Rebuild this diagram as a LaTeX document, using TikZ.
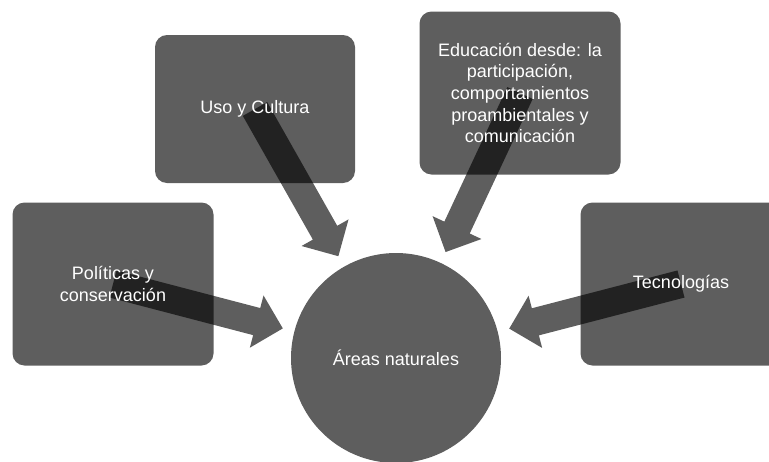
\documentclass[tikz,border=0pt]{standalone}
\usepackage{fontspec}
\setmainfont{Liberation Sans}
\usetikzlibrary{calc}
\definecolor{cajagris}{RGB}{94,94,94}
\tikzstyle{caja}=[rounded corners=12pt,fill=cajagris,minimum width=201pt,minimum height=163pt]
\tikzstyle{etiqueta}=[text=white,align=center,font=\fontsize{18}{21.6}\selectfont]
\tikzstyle{flecha}=[fill=black,fill opacity=0.63]
% block arrow from the centre of box #1 towards circle #2
\newcommand{\bloqueflecha}[2]{
    \coordinate (#1_a) at (#1.center);
    \coordinate (#1_p) at ($(#2.center)!117pt!(#1.center)$);
    \coordinate (#1_h) at ($(#1_p)!27pt!(#1_a)$);
    \fill[flecha] ($(#1_a)!14pt!90:(#1_p)$) -- ($(#1_h)!14pt!-90:(#1_a)$)
        -- ($(#1_h)!27pt!-90:(#1_a)$) -- (#1_p) -- ($(#1_h)!27pt!90:(#1_a)$)
        -- ($(#1_h)!14pt!90:(#1_a)$) -- ($(#1_a)!14pt!-90:(#1_p)$) -- cycle;
}

\begin{document}
\begin{tikzpicture}[x=1pt,y=-1pt]
    \useasboundingbox (0,0) rectangle (769,461);

    \node[caja] (pol) at (113, 284) {};
    \node[caja, minimum width=200pt, minimum height=148pt] (uso) at (255, 109) {};
    \node[caja] (edu) at (520, 93) {};
    \node[caja] (tec) at (681, 284) {};

    \node[circle, fill=cajagris, minimum size=210pt, etiqueta] (areas) at (396, 358) {Áreas naturales};

    \bloqueflecha{pol}{areas}
    \bloqueflecha{uso}{areas}
    \bloqueflecha{edu}{areas}
    \bloqueflecha{tec}{areas}

    \node[etiqueta] (pol_t) at (pol) {Políticas y\\conservación};
    \node[etiqueta] (uso_t) at (uso) {Uso y Cultura};
    \node[etiqueta] (edu_t) at (edu) {Educación desde: la\\participación,\\comportamientos\\proambientales y\\comunicación};
    \node[etiqueta] (tec_t) at (tec) {Tecnologías};
\end{tikzpicture}
\end{document}
